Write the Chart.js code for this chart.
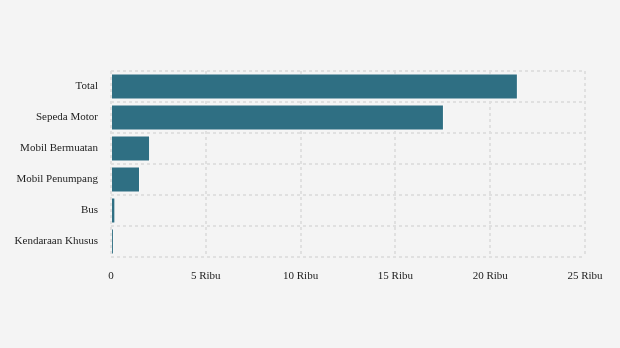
<!DOCTYPE html>
<html lang="id">
<head>
  <meta charset="utf-8">
  <title>Kendaraan</title>
  <script src="https://cdn.jsdelivr.net/npm/chart.js@4/dist/chart.umd.min.js"></script>
  <style>
    html, body {
      margin: 0;
      padding: 0;
      background-color: #f4f4f4;
    }
    #wrap {
      width: 620px;
      height: 348px;
    }
  </style>
</head>
<body>
  <div id="wrap">
    <canvas id="myChart" width="620" height="348"></canvas>
  </div>
<script>
  // data
  const categories = ['Total', 'Sepeda Motor', 'Mobil Bermuatan', 'Mobil Penumpang', 'Bus', 'Kendaraan Khusus'];
  const values = [21460, 17560, 2060, 1530, 230, 150];
  const xTicks = [0, 5000, 10000, 15000, 20000, 25000];

  const gridColor = '#e0e0e0';
  const fontFamily = "'Liberation Serif', 'Times New Roman', serif";

  function tickLabel(v) {
    if (v === 0) return '0';
    return (v / 1000) + ' Ribu';
  }

  var ctx = document.getElementById('myChart');
  var chart = new Chart(ctx, {
    type: 'bar',
    data: {
      labels: categories,
      datasets: [{
        data: values,
        backgroundColor: '#2f6f83',
        borderColor: 'rgba(255,255,255,0.5)',
        borderWidth: 1,
        barPercentage: 0.84,
        categoryPercentage: 1
      }]
    },
    options: {
      indexAxis: 'y',
      responsive: false,
      animation: false,
      layout: { padding: { top: 71, right: 35, left: 0, bottom: 0 } },
      plugins: {
        legend: { display: false },
        tooltip: { enabled: false }
      },
      scales: {
        x: {
          min: xTicks[0],
          max: xTicks[xTicks.length - 1],
          afterBuildTicks: function (scale) {
            scale.ticks = xTicks.map(v => ({ value: v }));
          },
          afterFit: function (scale) { scale.height = 91; },
          border: { display: false, dash: [3, 3] },
          grid: { color: gridColor, lineWidth: 2, drawTicks: false },
          ticks: {
            padding: 13,
            color: '#222',
            font: { family: fontFamily, size: 11 },
            maxRotation: 0,
            callback: tickLabel
          }
        },
        y: {
          afterFit: function (scale) { scale.width = 111; },
          border: { display: false, dash: [3, 3] },
          grid: { color: gridColor, lineWidth: 2, drawTicks: false },
          ticks: {
            padding: 13,
            color: '#222',
            font: { family: fontFamily, size: 11 }
          }
        }
      }
    }
  });
</script>
</body>
</html>
